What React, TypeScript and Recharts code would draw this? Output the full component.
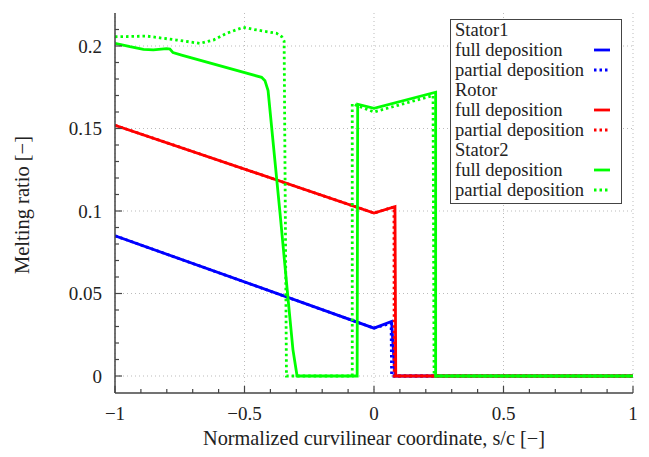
import { LineChart, Line, XAxis, YAxis, CartesianGrid } from 'recharts'

type Pt = [number, number]

// values (x = s/c, y = melting ratio)
const stator1Full: Pt[] = [[-1, 0.085], [0, 0.029], [0.068, 0.033], [0.081, 0], [1, 0]]
const stator1Partial: Pt[] = [[-1, 0.085], [0, 0.029], [0.066, 0.032], [0.068, 0], [1, 0]]
const rotorFull: Pt[] = [[-1, 0.152], [0, 0.0988], [0.081, 0.1026], [0.084, 0], [1, 0]]
const rotorPartial: Pt[] = [[-1, 0.152], [0, 0.0988], [0.077, 0.1024], [0.078, 0], [1, 0]]
const stator2Full: Pt[] = [
  [-1, 0.2016], [-0.942, 0.1996], [-0.89, 0.198], [-0.852, 0.1976], [-0.801, 0.1984],
  [-0.788, 0.1982], [-0.776, 0.196], [-0.743, 0.1945], [-0.434, 0.181], [-0.421, 0.179],
  [-0.409, 0.173], [-0.363, 0.099], [-0.332, 0.047], [-0.313, 0.016], [-0.297, 0],
  [-0.065, 0], [-0.063, 0.1647], [0, 0.1622], [0.238, 0.172], [0.238, 0], [1, 0],
]
const stator2Partial: Pt[] = [
  [-1, 0.2056], [-0.877, 0.206], [-0.762, 0.2036], [-0.672, 0.2016], [-0.62, 0.2036],
  [-0.569, 0.2077], [-0.505, 0.2113], [-0.453, 0.2097], [-0.376, 0.2077], [-0.356, 0.2056],
  [-0.347, 0.203], [-0.338, 0], [-0.084, 0], [-0.084, 0.165], [0, 0.16], [0.228, 0.17],
  [0.232, 0], [1, 0],
]

const xMajorTicks = [-1, -0.5, 0, 0.5, 1]
const xMinorTicks = [-1, -0.9, -0.8, -0.7, -0.6, -0.5, -0.4, -0.3, -0.2, -0.1, 0, 0.1, 0.2, 0.3, 0.4, 0.5, 0.6, 0.7, 0.8, 0.9, 1]
const yMajorTicks = [0, 0.05, 0.1, 0.15, 0.2]
const yMinorTicks = [0, 0.01, 0.02, 0.03, 0.04, 0.05, 0.06, 0.07, 0.08, 0.09, 0.1, 0.11, 0.12, 0.13, 0.14, 0.15, 0.16, 0.17, 0.18, 0.19, 0.2, 0.21]

const BLUE = '#0000ff'
const RED = '#ff0000'
const GREEN = '#00ff00'
const AXIS = '#444'
const FONT = '"Liberation Serif", "DejaVu Serif", serif'
const DOTS = '2.5 3'

const toData = (pts: Pt[]) => pts.map(([x, y]) => ({ x, y }))
const isMajor = (v: number, list: number[]) => list.some((m) => Math.abs(m - v) < 1e-9)
const fmt = (v: number) => String(v).replace('-', '\u2212')

const BottomTick = (props: any) => {
  const { x, y, payload } = props
  const major = isMajor(payload.value, xMajorTicks)
  return (
    <g>
      <line x1={x} x2={x} y1={y} y2={y - (major ? 7 : 4)} stroke={AXIS} strokeWidth={1.2} />
      {major && (
        <text x={x} y={y + 20} textAnchor="middle" dominantBaseline="central" fontFamily={FONT} fontSize={19} fill="#222">
          {fmt(payload.value)}
        </text>
      )}
    </g>
  )
}

const TopTick = (props: any) => {
  const { x, y, payload } = props
  const major = isMajor(payload.value, xMajorTicks)
  return <line x1={x} x2={x} y1={y} y2={y + (major ? 7 : 4)} stroke={AXIS} strokeWidth={1.2} />
}

const LeftTick = (props: any) => {
  const { x, y, payload } = props
  const major = isMajor(payload.value, yMajorTicks)
  return (
    <g>
      <line x1={x} x2={x + (major ? 7 : 4)} y1={y} y2={y} stroke={AXIS} strokeWidth={1.2} />
      {major && (
        <text x={x - 13} y={y} textAnchor="end" dominantBaseline="central" fontFamily={FONT} fontSize={19} fill="#222">
          {fmt(payload.value)}
        </text>
      )}
    </g>
  )
}

const RightTick = (props: any) => {
  const { x, y, payload } = props
  const major = isMajor(payload.value, yMajorTicks)
  return <line x1={x} x2={x - (major ? 7 : 4)} y1={y} y2={y} stroke={AXIS} strokeWidth={1.2} />
}

const legendRows: { text: string; color?: string; dotted?: boolean }[] = [
  { text: 'Stator1' },
  { text: 'full deposition', color: BLUE },
  { text: 'partial deposition', color: BLUE, dotted: true },
  { text: 'Rotor' },
  { text: 'full deposition', color: RED },
  { text: 'partial deposition', color: RED, dotted: true },
  { text: 'Stator2' },
  { text: 'full deposition', color: GREEN },
  { text: 'partial deposition', color: GREEN, dotted: true },
]

function LegendBox() {
  return (
    <div
      style={{
        position: 'absolute', left: 450, top: 19, width: 172, height: 185,
        boxSizing: 'border-box', border: `1.5px solid ${AXIS}`, background: '#fff',
        fontFamily: FONT, fontSize: 18.5, color: '#222',
      }}
    >
      {legendRows.map((r, i) => (
        <div key={i} style={{ position: 'relative', height: 20, lineHeight: '20px', paddingLeft: 4, whiteSpace: 'nowrap' }}>
          {r.text}
          {r.color && (
            <svg width={18} height={6} style={{ position: 'absolute', left: 142, top: 7 }}>
              <line x1={1} x2={17} y1={3} y2={3} stroke={r.color} strokeWidth={2.8} strokeDasharray={r.dotted ? DOTS : undefined} />
            </svg>
          )}
        </div>
      ))}
    </div>
  )
}

const series: { pts: Pt[]; color: string; dotted?: boolean }[] = [
  { pts: stator1Partial, color: BLUE, dotted: true },
  { pts: stator1Full, color: BLUE },
  { pts: rotorPartial, color: RED, dotted: true },
  { pts: rotorFull, color: RED },
  { pts: stator2Partial, color: GREEN, dotted: true },
  { pts: stator2Full, color: GREEN },
]

export default function App() {
  return (
    <div style={{ position: 'fixed', left: 0, top: 0, width: 649, height: 457, background: '#fff' }}>
      <LineChart width={649} height={457} margin={{ top: 13, right: 16, bottom: 0, left: 0 }}>
        <CartesianGrid
          xAxisId="b"
          yAxisId="l"
          stroke="#bbb"
          strokeDasharray="1 3"
          horizontalValues={yMajorTicks}
          verticalValues={xMajorTicks}
        />
        <XAxis
          xAxisId="b"
          type="number"
          dataKey="x"
          domain={[-1, 1]}
          ticks={xMinorTicks}
          interval={0}
          height={64}
          tickSize={0}
          tickMargin={0}
          tick={<BottomTick />}
          axisLine={{ stroke: AXIS, strokeWidth: 1.5 }}
          allowDataOverflow
          label={{
            content: () => (
              <text x={374} y={438} textAnchor="middle" dominantBaseline="central" fontFamily={FONT} fontSize={20.3} fill="#222">
                Normalized curvilinear coordinate, s/c [{'\u2212'}]
              </text>
            ),
          }}
        />
        <XAxis
          xAxisId="t"
          orientation="top"
          type="number"
          dataKey="x"
          domain={[-1, 1]}
          ticks={xMinorTicks}
          interval={0}
          height={0}
          tickSize={0}
          tickMargin={0}
          tick={<TopTick />}
          axisLine={{ stroke: AXIS, strokeWidth: 1.5 }}
          allowDataOverflow
        />
        <YAxis
          yAxisId="l"
          type="number"
          domain={[-0.0103, 0.22]}
          ticks={yMinorTicks}
          interval={0}
          width={115}
          tickSize={0}
          tickMargin={0}
          tick={<LeftTick />}
          axisLine={{ stroke: AXIS, strokeWidth: 1.5 }}
          allowDataOverflow
          label={{
            content: () => (
              <text x={22} y={205} transform="rotate(-90 22 205)" textAnchor="middle" dominantBaseline="central" fontFamily={FONT} fontSize={20.5} fill="#222">
                Melting ratio [{'\u2212'}]
              </text>
            ),
          }}
        />
        <YAxis
          yAxisId="r"
          orientation="right"
          type="number"
          domain={[-0.0103, 0.22]}
          ticks={yMinorTicks}
          interval={0}
          width={0}
          tickSize={0}
          tickMargin={0}
          tick={<RightTick />}
          axisLine={{ stroke: AXIS, strokeWidth: 1.5 }}
          allowDataOverflow
        />
        {series.map((s, i) => (
          <Line
            key={i}
            xAxisId="b"
            yAxisId="l"
            data={toData(s.pts)}
            dataKey="y"
            type="linear"
            stroke={s.color}
            strokeWidth={2.8}
            strokeDasharray={s.dotted ? DOTS : undefined}
            dot={false}
            activeDot={false}
            isAnimationActive={false}
          />
        ))}
      </LineChart>
      <LegendBox />
    </div>
  )
}
